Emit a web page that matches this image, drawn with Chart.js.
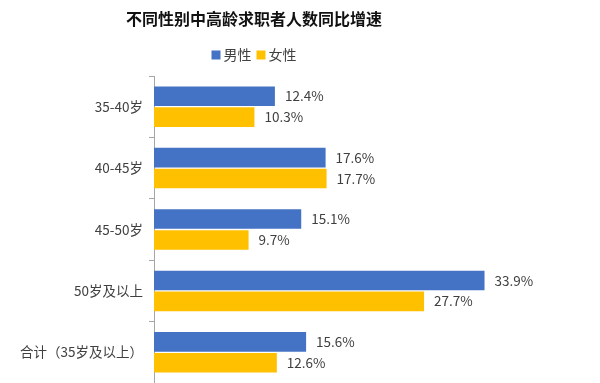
<!DOCTYPE html>
<html>
<head>
<meta charset="utf-8">
<script src="https://cdn.jsdelivr.net/npm/chart.js@4/dist/chart.umd.min.js"></script>
<style>
  html, body { margin: 0; padding: 0; background: #fff; overflow: hidden; }
  #wrap { width: 600px; height: 383px; }
</style>
</head>
<body>
<div id="wrap"><canvas id="chart"></canvas></div>
<script>
var ctx = document.getElementById('chart').getContext('2d');

const titleText = '不同性别中高龄求职者人数同比增速';
const categories = ['35-40岁', '40-45岁', '45-50岁', '50岁及以上', '合计（35岁及以上）'];
const seriesNames = ['男性', '女性'];
const maleValues = [12.4, 17.6, 15.1, 33.9, 15.6];
const femaleValues = [10.3, 17.7, 9.7, 27.7, 12.6];
const seriesColors = ['#4472C4', '#FFC000'];

const FONT = '"Noto Sans CJK SC", "Noto Sans", sans-serif';

// value labels at bar ends
const valueLabels = {
  id: 'valueLabels',
  afterDatasetsDraw(chart) {
    const c = chart.ctx;
    c.save();
    c.font = '13.5px ' + FONT;
    c.fillStyle = '#404040';
    c.textAlign = 'left';
    c.textBaseline = 'middle';
    chart.data.datasets.forEach(function (ds, i) {
      chart.getDatasetMeta(i).data.forEach(function (bar, j) {
        c.fillText(ds.data[j].toFixed(1) + '%', bar.x + 10, bar.y);
      });
    });
    c.restore();
  }
};

// title + legend, centred a bit left of the canvas middle like the original
const header = {
  id: 'header',
  afterDraw(chart) {
    const c = chart.ctx;
    const cx = 254;
    c.save();
    c.font = 'bold 16px ' + FONT;
    c.fillStyle = '#111';
    c.textAlign = 'center';
    c.textBaseline = 'middle';
    c.fillText(titleText, cx, 19);

    c.font = '14px ' + FONT;
    c.textAlign = 'left';
    const box = 9, gap = 3, between = 5;
    let total = 0;
    const widths = seriesNames.map(function (n) { return c.measureText(n).width; });
    widths.forEach(function (w) { total += box + gap + w; });
    total += between * (seriesNames.length - 1);
    let x = cx - total / 2;
    const y = 55;
    seriesNames.forEach(function (n, i) {
      c.fillStyle = seriesColors[i];
      c.fillRect(x, y - box / 2, box, box);
      c.fillStyle = '#404040';
      c.fillText(n, x + box + gap, y);
      x += box + gap + widths[i] + between;
    });
    c.restore();
  }
};

const data = {
  labels: categories,
  datasets: [
    {
      label: seriesNames[0],
      data: maleValues,
      backgroundColor: seriesColors[0],
      categoryPercentage: 0.68,
      barPercentage: 0.94
    },
    {
      label: seriesNames[1],
      data: femaleValues,
      backgroundColor: seriesColors[1],
      categoryPercentage: 0.68,
      barPercentage: 0.94
    }
  ]
};

const config = {
  type: 'bar',
  data: data,
  options: {
    indexAxis: 'y',
    responsive: true,
    maintainAspectRatio: false,
    animation: false,
    layout: {
      padding: { top: 76, right: 56, bottom: 0, left: 0 }
    },
    scales: {
      x: {
        display: false,
        min: 0,
        max: 40
      },
      y: {
        afterFit: function (scale) {
          scale.width = 154;
          scale.paddingTop = 0;
          scale.paddingBottom = 0;
        },
        border: { display: true, color: '#a6a6a6', width: 1 },
        grid: {
          drawOnChartArea: false,
          drawTicks: true,
          tickLength: 5,
          color: '#a6a6a6',
          offset: true
        },
        ticks: {
          padding: 6,
          color: '#404040',
          font: { family: FONT, size: 13.5 }
        }
      }
    },
    plugins: {
      legend: { display: false },
      title: { display: false },
      tooltip: { enabled: false }
    }
  },
  plugins: [valueLabels, header]
};

var chart = new Chart(ctx, config);
</script>
</body>
</html>
